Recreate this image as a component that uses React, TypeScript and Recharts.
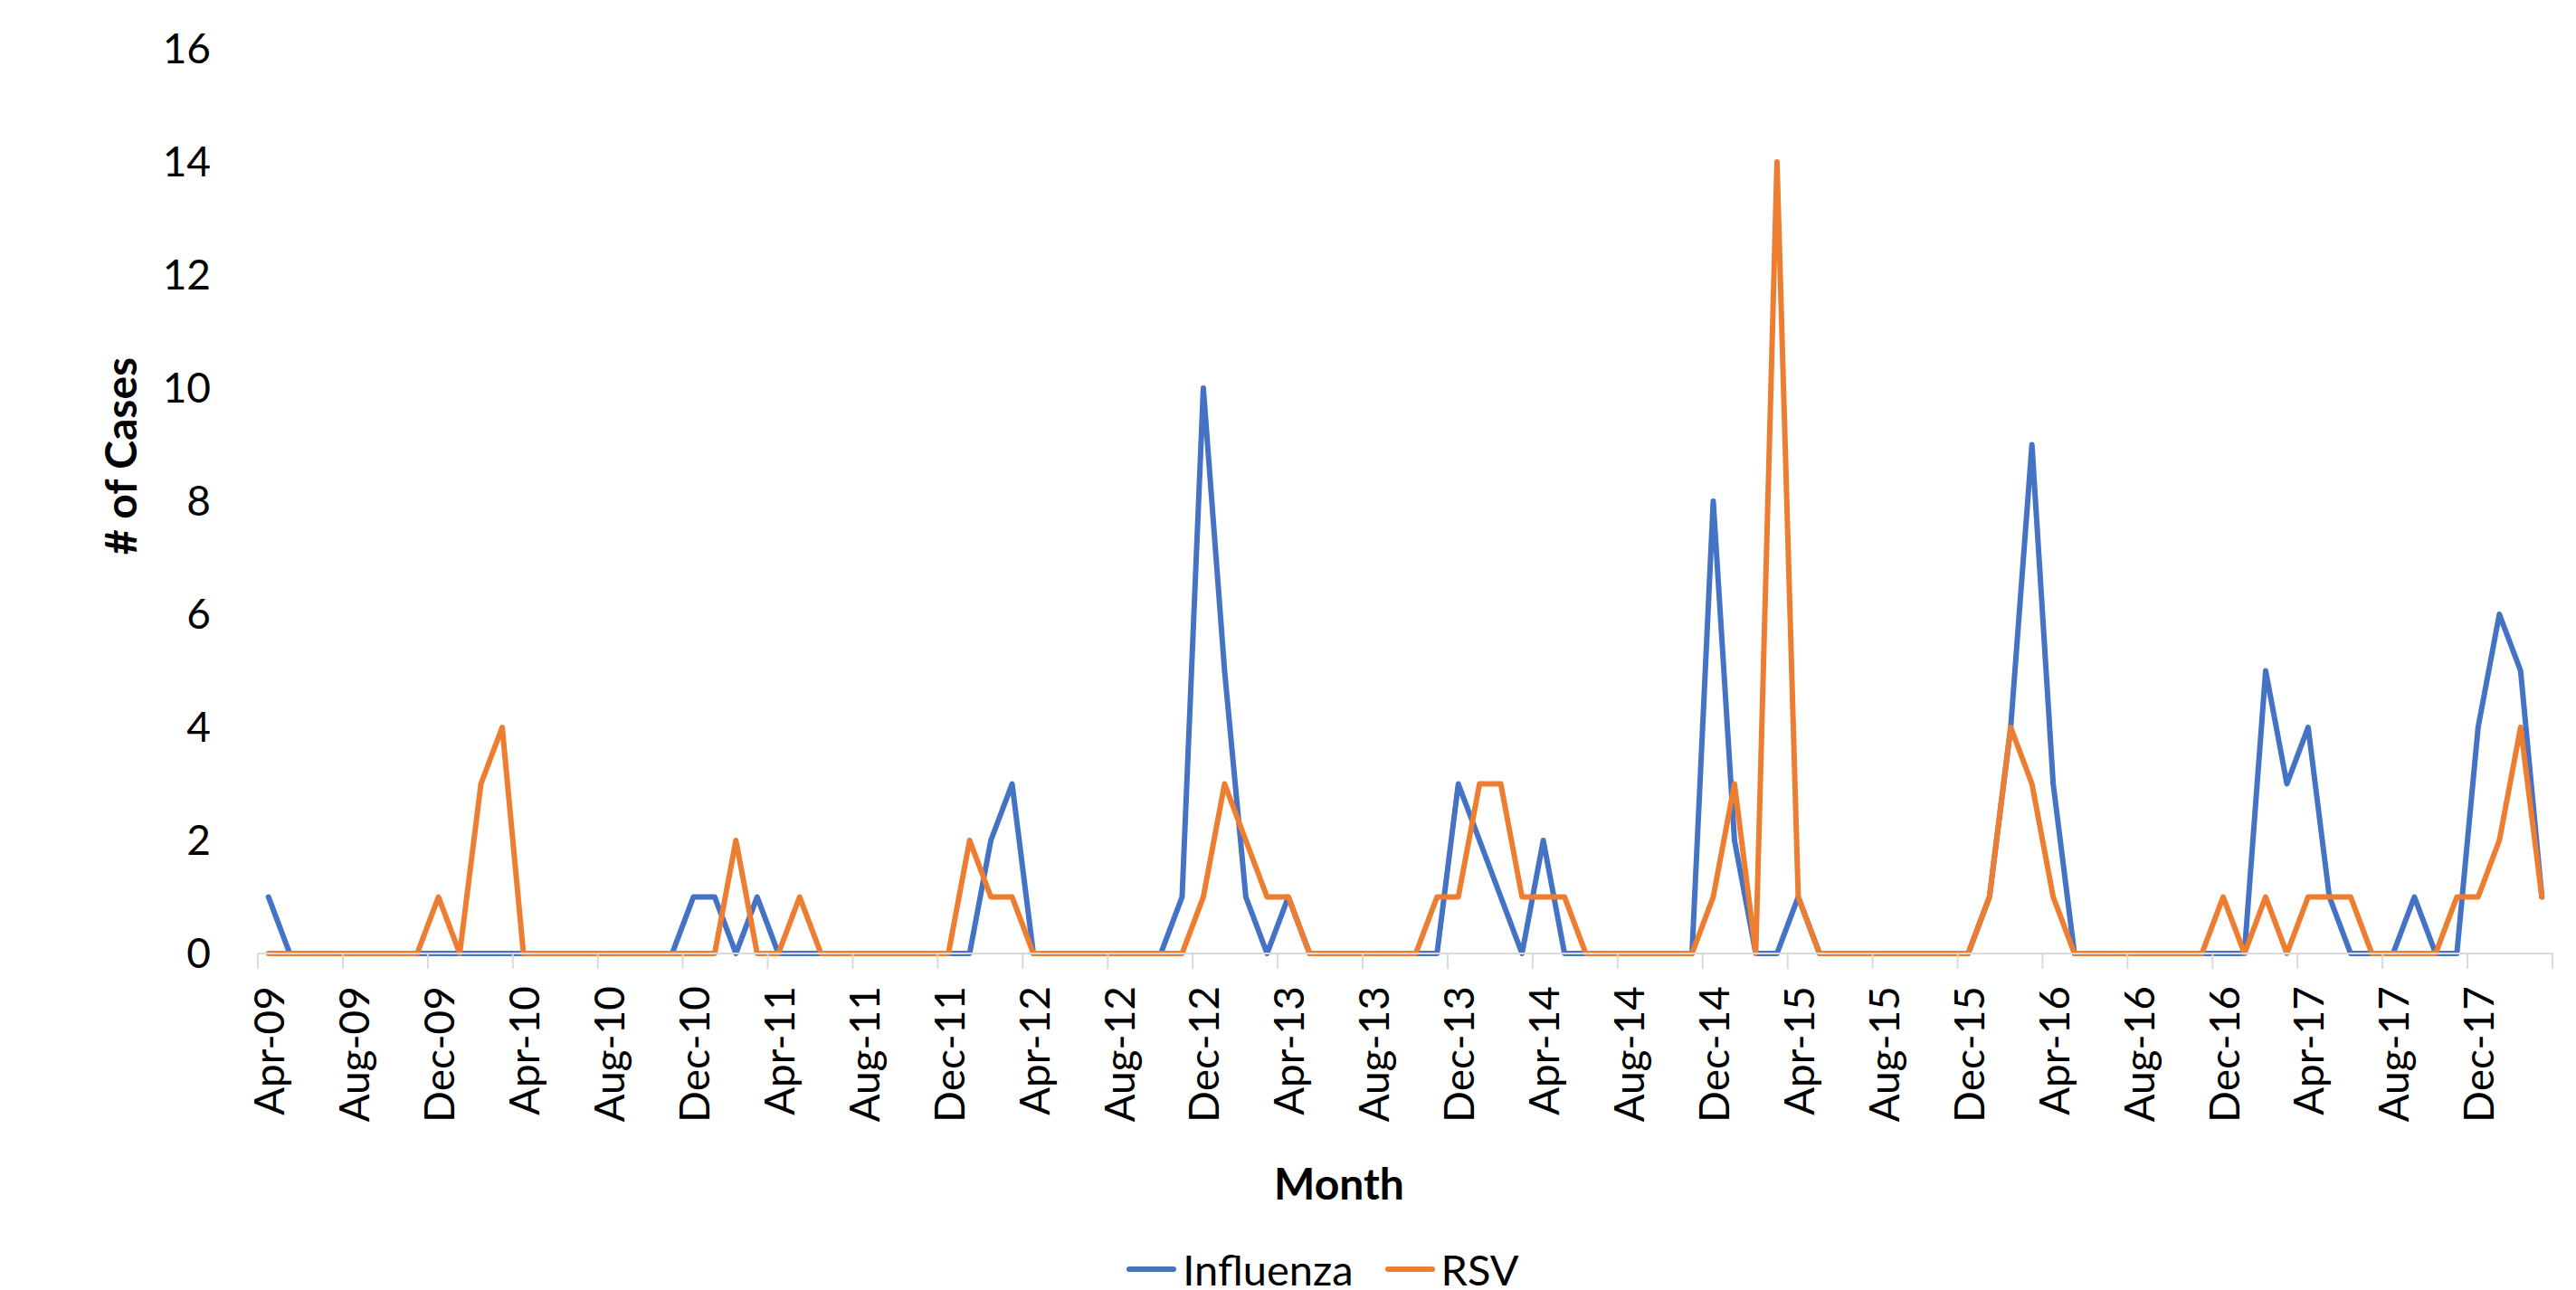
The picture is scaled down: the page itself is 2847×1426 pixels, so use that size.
import React from "react"
import { LineChart, Line, XAxis, YAxis, Legend } from "recharts"

// monthly counts, Apr-09 .. Mar-18 (108 months)
const influenza = [
  1, 0, 0, 0, 0, 0, 0, 0, 0, 0,
  0, 0, 0, 0, 0, 0, 0, 0, 0, 0,
  1, 1, 0, 1, 0, 0, 0, 0, 0, 0,
  0, 0, 0, 0, 2, 3, 0, 0, 0, 0,
  0, 0, 0, 1, 10, 5, 1, 0, 1, 0,
  0, 0, 0, 0, 0, 0, 3, 2, 1, 0,
  2, 0, 0, 0, 0, 0, 0, 0, 8, 2,
  0, 0, 1, 0, 0, 0, 0, 0, 0, 0,
  0, 1, 4, 9, 3, 0, 0, 0, 0, 0,
  0, 0, 0, 0, 5, 3, 4, 1, 0, 0,
  0, 1, 0, 0, 4, 6, 5, 1,
]

const rsv = [
  0, 0, 0, 0, 0, 0, 0, 0, 1, 0,
  3, 4, 0, 0, 0, 0, 0, 0, 0, 0,
  0, 0, 2, 0, 0, 1, 0, 0, 0, 0,
  0, 0, 0, 2, 1, 1, 0, 0, 0, 0,
  0, 0, 0, 0, 1, 3, 2, 1, 1, 0,
  0, 0, 0, 0, 0, 1, 1, 3, 3, 1,
  1, 1, 0, 0, 0, 0, 0, 0, 1, 3,
  0, 14, 1, 0, 0, 0, 0, 0, 0, 0,
  0, 1, 4, 3, 1, 0, 0, 0, 0, 0,
  0, 0, 1, 0, 1, 0, 1, 1, 1, 0,
  0, 0, 0, 1, 1, 2, 4, 1,
]

// one label every 4 months
const tickLabels = [
  "Apr-09", "Aug-09", "Dec-09", "Apr-10", "Aug-10", "Dec-10", "Apr-11", "Aug-11", "Dec-11",
  "Apr-12", "Aug-12", "Dec-12", "Apr-13", "Aug-13", "Dec-13", "Apr-14", "Aug-14", "Dec-14",
  "Apr-15", "Aug-15", "Dec-15", "Apr-16", "Aug-16", "Dec-16", "Apr-17", "Aug-17", "Dec-17",
]

const yTicks = [0, 2, 4, 6, 8, 10, 12, 14, 16]

const series = [
  { key: "influenza", name: "Influenza", color: "#4472C4" },
  { key: "rsv", name: "RSV", color: "#ED7D31" },
]

const FONT = "Lato, 'Open Sans', sans-serif"
const AXIS_GREY = "#d9d9d9"

const data = influenza.map((v, i) => ({ idx: i, influenza: v, rsv: rsv[i] }))

// labels sit on the month, tick marks sit between months (Excel style)
const xTicks: number[] = []
tickLabels.forEach((_, k) => {
  xTicks.push(k * 4 - 0.5, k * 4)
})
xTicks.push(tickLabels.length * 4 - 0.5)

function XTick(props: any) {
  const { x, y, payload } = props
  const v = payload.value
  if (!Number.isInteger(v)) {
    return <line x1={x} x2={x} y1={y} y2={y + 17} stroke={AXIS_GREY} strokeWidth={2} />
  }
  const ty = y + 36
  return (
    <text
      x={x}
      y={ty}
      transform={`rotate(-90 ${x} ${ty})`}
      textAnchor="end"
      dominantBaseline="central"
      fontFamily={FONT}
      fontSize={46}
      fill="#000"
    >
      {tickLabels[v / 4]}
    </text>
  )
}

function XTitle(props: any) {
  const vb = props.viewBox
  return (
    <text x={vb.x + vb.width / 2 - 73} y={vb.y + 272} textAnchor="middle" fontFamily={FONT} fontWeight={700} fontSize={48} fill="#000">
      Month
    </text>
  )
}

function YTitle(props: any) {
  const vb = props.viewBox
  const cx = vb.x + 32
  const cy = vb.y + vb.height / 2 - 50
  return (
    <text
      x={cx}
      y={cy}
      transform={`rotate(-90 ${cx} ${cy})`}
      textAnchor="middle"
      dominantBaseline="central"
      fontFamily={FONT}
      fontWeight={700}
      fontSize={48}
      fill="#000"
    >
      # of Cases
    </text>
  )
}

function LegendContent() {
  return (
    <div
      style={{
        display: "flex",
        justifyContent: "center",
        alignItems: "center",
        gap: 35,
        height: 46,
        paddingLeft: 77,
        fontFamily: FONT,
        fontSize: 47,
        lineHeight: 1,
        color: "#000",
      }}
    >
      {series.map((s) => (
        <div key={s.key} style={{ display: "flex", alignItems: "center" }}>
          <span style={{ display: "inline-block", width: 55, height: 6, borderRadius: 3, background: s.color, marginRight: 7 }} />
          <span>{s.name}</span>
        </div>
      ))}
    </div>
  )
}

export default function App() {
  return (
    <div style={{ position: "absolute", left: 0, top: 0, width: 2847, height: 1426, background: "#fff" }}>
      <LineChart width={2847} height={1426} data={data} margin={{ top: 54, right: 26, left: 100, bottom: 0 }}>
        <XAxis
          dataKey="idx"
          type="number"
          domain={[-0.5, 107.5]}
          ticks={xTicks}
          interval={0}
          height={326}
          tick={<XTick />}
          tickLine={false}
          tickSize={0}
          tickMargin={0}
          axisLine={{ stroke: AXIS_GREY, strokeWidth: 2 }}
          label={<XTitle />}
        />
        <YAxis
          type="number"
          domain={[0, 16]}
          ticks={yTicks}
          interval={0}
          width={185}
          axisLine={false}
          tickLine={false}
          tickSize={0}
          tickMargin={52}
          tick={{ fontFamily: FONT, fontSize: 46, fill: "#000" }}
          label={<YTitle />}
        />
        <Legend
          verticalAlign="bottom"
          height={46}
          content={<LegendContent />}
          wrapperStyle={{ left: 0, width: 2847, bottom: 0 }}
        />
        {series.map((s) => (
          <Line
            key={s.key}
            type="linear"
            dataKey={s.key}
            name={s.name}
            stroke={s.color}
            strokeWidth={6}
            strokeLinejoin="round"
            strokeLinecap="round"
            dot={false}
            activeDot={false}
            isAnimationActive={false}
          />
        ))}
      </LineChart>
    </div>
  )
}
